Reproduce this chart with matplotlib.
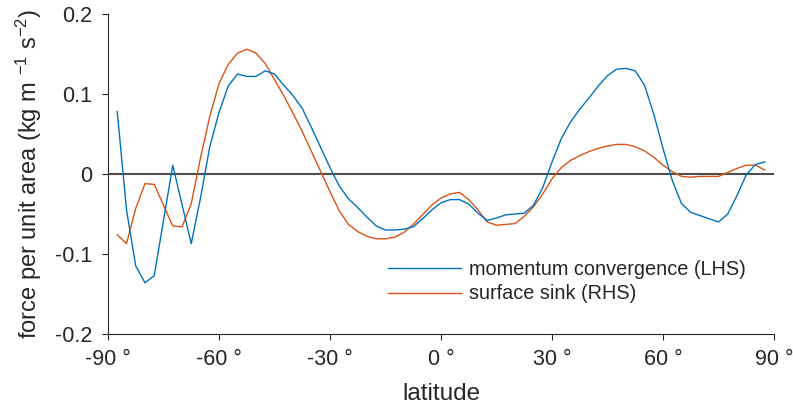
import numpy as np
import matplotlib
matplotlib.use("Agg")
import matplotlib.pyplot as plt

plt.rcParams['font.family'] = ['Liberation Sans', 'DejaVu Sans']
plt.rcParams['mathtext.fontset'] = 'custom'
plt.rcParams['mathtext.rm'] = 'Liberation Sans'
plt.rcParams['mathtext.it'] = 'Liberation Sans'
plt.rcParams['mathtext.bf'] = 'Liberation Sans'

# ---------- data ----------
lat = np.arange(-87.5, 88, 2.5)

momentum_conv = [
    0.078, -0.045, -0.115, -0.136, -0.127, -0.058, 0.011, -0.038, -0.087, -0.030,
    0.034, 0.077, 0.110, 0.125, 0.122, 0.122, 0.129, 0.125, 0.111, 0.098,
    0.082, 0.058, 0.033, 0.008, -0.015, -0.031, -0.042, -0.054, -0.065, -0.070,
    -0.070, -0.069, -0.066, -0.056, -0.045, -0.036, -0.032, -0.032, -0.0375, -0.049,
    -0.058, -0.055, -0.051, -0.050, -0.049, -0.039, -0.017, 0.015, 0.044, 0.065,
    0.081, 0.095, 0.110, 0.123, 0.131, 0.132, 0.129, 0.111, 0.075, 0.032,
    -0.008, -0.037, -0.048, -0.052, -0.056, -0.060, -0.050, -0.027, -0.001, 0.012,
    0.015,
]

surface_sink = [
    -0.076, -0.087, -0.043, -0.012, -0.013, -0.039, -0.065, -0.066, -0.037, 0.020,
    0.072, 0.113, 0.137, 0.151, 0.156, 0.151, 0.138, 0.118, 0.098, 0.076,
    0.053, 0.028, 0.003, -0.022, -0.046, -0.063, -0.072, -0.078, -0.081, -0.081,
    -0.079, -0.073, -0.063, -0.051, -0.039, -0.030, -0.025, -0.023, -0.032, -0.045,
    -0.060, -0.064, -0.063, -0.062, -0.053, -0.041, -0.025, -0.006, 0.008, 0.017,
    0.023, 0.028, 0.032, 0.035, 0.037, 0.037, 0.034, 0.029, 0.021, 0.011,
    0.003, -0.003, -0.004, -0.003, -0.003, -0.003, 0.002, 0.007, 0.011, 0.011,
    0.005,
]

xticks = [-90, -60, -30, 0, 30, 60, 90]
yticks = [-0.2, -0.1, 0, 0.1, 0.2]
ytick_labels = ["-0.2", "-0.1", "0", "0.1", "0.2"]

# ---------- plot ----------
fig = plt.figure(figsize=(7.93, 4.08), dpi=100)
ax = fig.add_axes([108 / 793, 74 / 408, 666 / 793, 320 / 408])

txt = '#262626'
ax.plot([-90, 90], [0, 0], color='#4d4d4d', lw=1.5, zorder=1)
ax.plot(lat, momentum_conv, color='#0072BD', lw=1.0, label='momentum convergence (LHS)', zorder=3)
ax.plot(lat, surface_sink, color='#D95319', lw=1.0, label='surface sink (RHS)', zorder=2)

ax.set_xlim(-90, 90)
ax.set_ylim(-0.2, 0.2)
ax.set_xticks(xticks)
ax.set_xticklabels([f"{t} \u00b0" for t in xticks])
ax.set_yticks(yticks)
ax.set_yticklabels(ytick_labels)

for s in ['top', 'right']:
    ax.spines[s].set_visible(False)
for s in ['left', 'bottom']:
    ax.spines[s].set_color(txt)
    ax.spines[s].set_linewidth(0.8)

ax.tick_params(direction='out', length=4, width=0.8, colors=txt, labelsize=15.5)
ax.tick_params(axis='x', pad=7)
ax.tick_params(axis='y', pad=7.5)

ax.set_xlabel('latitude', fontsize=17.5, color=txt, labelpad=9)
ax.set_ylabel('force per unit area (kg m $^{-1}$ s$^{-2}$)', fontsize=17, color=txt, labelpad=8)

ax.legend(loc='center left', bbox_to_anchor=(0.42, 0.164), frameon=False,
          fontsize=14.3, handlelength=3.7, handletextpad=0.38, borderaxespad=0,
          borderpad=0, labelspacing=0.3, labelcolor=txt)

fig.savefig('out.png', dpi=100)
